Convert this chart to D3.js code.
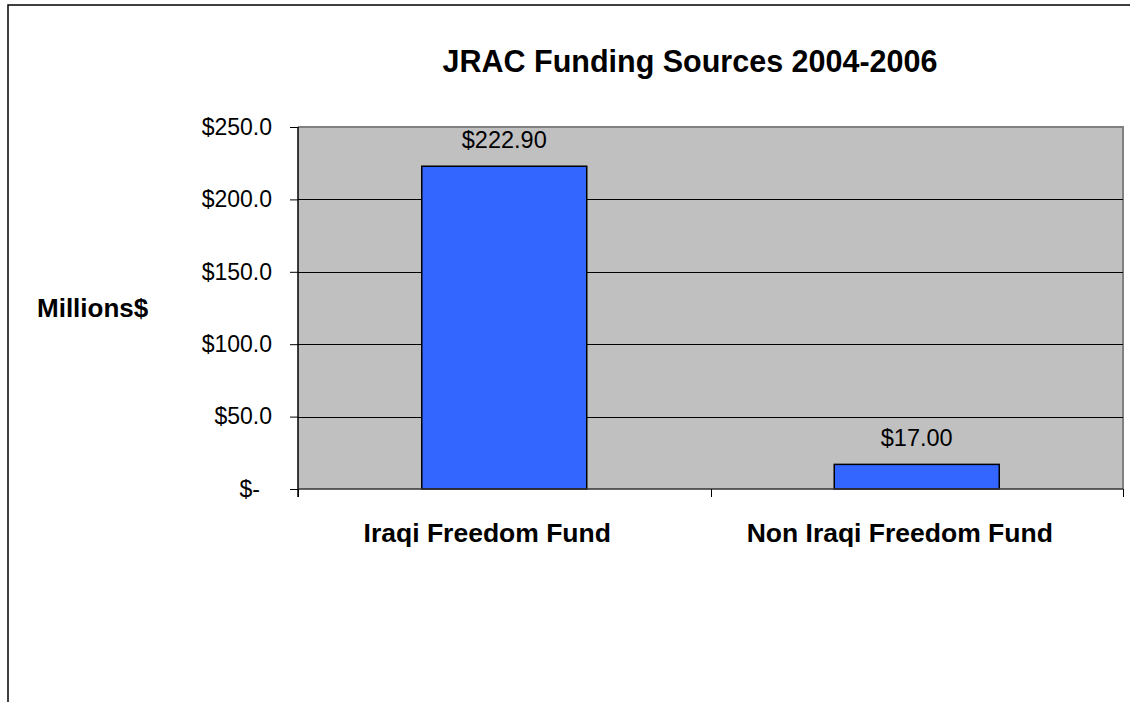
<!DOCTYPE html>
<html>
<head>
<meta charset="utf-8">
<script src="https://cdn.jsdelivr.net/npm/d3@7"></script>
<style>
  body { margin: 0; background: #fff; }
  svg { display: block; font-family: "Liberation Sans", Arial, sans-serif; }
</style>
</head>
<body>
<div id="chart"></div>
<script>
// chart data
var categories = ["Iraqi Freedom Fund", "Non Iraqi Freedom Fund"]
var values = [222.90, 17.00]
var yTicks = [0, 50, 100, 150, 200, 250]
var titleText = "JRAC Funding Sources 2004-2006"
var yLabel = "Millions$"

var width = 1130,
    height = 702

// plot area edges
var margin = {top: 127, right: 7, bottom: 213, left: 298}

var svg = d3.select("#chart")
    .append("svg")
    .attr("width", width)
    .attr("height", height)

// outer frame (runs off the right and bottom)
svg.append("rect")
    .attr("x", 8)
    .attr("y", 5)
    .attr("width", width + 20)
    .attr("height", height + 20)
    .attr("fill", "none")
    .attr("stroke", "#000")
    .attr("stroke-width", 1.5)

var x = d3.scaleBand()
    .domain(categories)
    .range([margin.left, width - margin.right])
    .paddingInner(0.6)
    .paddingOuter(0.3)

var y = d3.scaleLinear()
    .domain([0, 250])
    .range([height - margin.bottom, margin.top])

// plot background
svg.append("rect")
    .attr("x", margin.left)
    .attr("y", y(250))
    .attr("width", width - margin.right - margin.left)
    .attr("height", y(0) - y(250))
    .attr("fill", "#c0c0c0")

// gray top and right border of plot area
svg.append("path")
    .attr("d", "M" + margin.left + "," + y(250) + "H" + (width - margin.right) + "V" + y(0))
    .attr("fill", "none")
    .attr("stroke", "#808080")
    .attr("stroke-width", 2)

// gridlines
svg.append("g")
  .selectAll("line")
  .data(yTicks.filter(function(d) { return d > 0 && d < 250 }))
  .enter().append("line")
    .attr("x1", margin.left)
    .attr("x2", width - margin.right)
    .attr("y1", function(d) { return Math.round(y(d)) + 0.5 })
    .attr("y2", function(d) { return Math.round(y(d)) + 0.5 })
    .attr("stroke", "#000")
    .attr("stroke-width", 1)

// bars
svg.append("g")
  .selectAll("rect")
  .data(values)
  .enter().append("rect")
    .attr("x", function(d, i) { return x(categories[i]) })
    .attr("y", function(d) { return y(d) })
    .attr("width", x.bandwidth())
    .attr("height", function(d) { return y(0) - y(d) })
    .attr("fill", "#3366ff")
    .attr("stroke", "#000")
    .attr("stroke-width", 1.5)

// value labels
svg.append("g")
    .attr("text-anchor", "middle")
    .style("font-size", "23.5px")
  .selectAll("text")
  .data(values)
  .enter().append("text")
    .attr("x", function(d, i) { return x(categories[i]) + x.bandwidth() / 2 })
    .attr("y", function(d) { return y(d) - 18 })
    .attr("fill", "#000")
    .text(function(d) { return "$" + d.toFixed(2) })

// y axis
var yAxis = svg.append("g")
    .attr("transform", "translate(" + margin.left + ",0)")
    .call(d3.axisLeft(y)
      .tickValues(yTicks)
      .tickSize(8)
      .tickPadding(18)
      .tickFormat(function(d) { return d === 0 ? "$-" : "$" + d.toFixed(1) }))

yAxis.select(".domain")
    .attr("stroke", "#000")
    .attr("stroke-width", 1.5)
    .attr("d", "M0," + y(250) + "V" + (y(0) + 8))
yAxis.selectAll(".tick line").attr("stroke", "#000")
yAxis.selectAll(".tick text")
    .style("font-family", "\"Liberation Sans\", Arial, sans-serif")
    .style("font-size", "23px")
    .attr("fill", "#000")
    .attr("dx", function(d) { return d === 0 ? -12 : 0 })

// x axis line + boundary ticks
var step = x.step()
var bounds = d3.range(categories.length + 1).map(function(i) { return margin.left + i * step })

svg.append("line")
    .attr("x1", margin.left)
    .attr("x2", width - margin.right)
    .attr("y1", y(0))
    .attr("y2", y(0))
    .attr("stroke", "#333")
    .attr("stroke-width", 1.5)

svg.append("g")
  .selectAll("line")
  .data(bounds)
  .enter().append("line")
    .attr("x1", function(d) { return Math.round(d) + 0.5 })
    .attr("x2", function(d) { return Math.round(d) + 0.5 })
    .attr("y1", y(0))
    .attr("y2", y(0) + 8)
    .attr("stroke", "#000")

// category labels
var xAxis = svg.append("g")
    .attr("transform", "translate(0," + y(0) + ")")
    .call(d3.axisBottom(x).tickSize(0))
xAxis.select(".domain").remove()
xAxis.selectAll(".tick text")
    .style("font-family", "\"Liberation Sans\", Arial, sans-serif")
    .style("font-size", "26.5px")
    .style("font-weight", "bold")
    .attr("fill", "#000")
    .attr("dx", -17)
    .attr("dy", 0)
    .attr("y", 53)

// y axis title
svg.append("text")
    .attr("x", 37)
    .attr("y", 317)
    .style("font-size", "26px")
    .style("font-weight", "bold")
    .text(yLabel)

// chart title
svg.append("text")
    .attr("x", 690)
    .attr("y", 72)
    .attr("text-anchor", "middle")
    .style("font-size", "30.5px")
    .style("font-weight", "bold")
    .text(titleText)
</script>
</body>
</html>
